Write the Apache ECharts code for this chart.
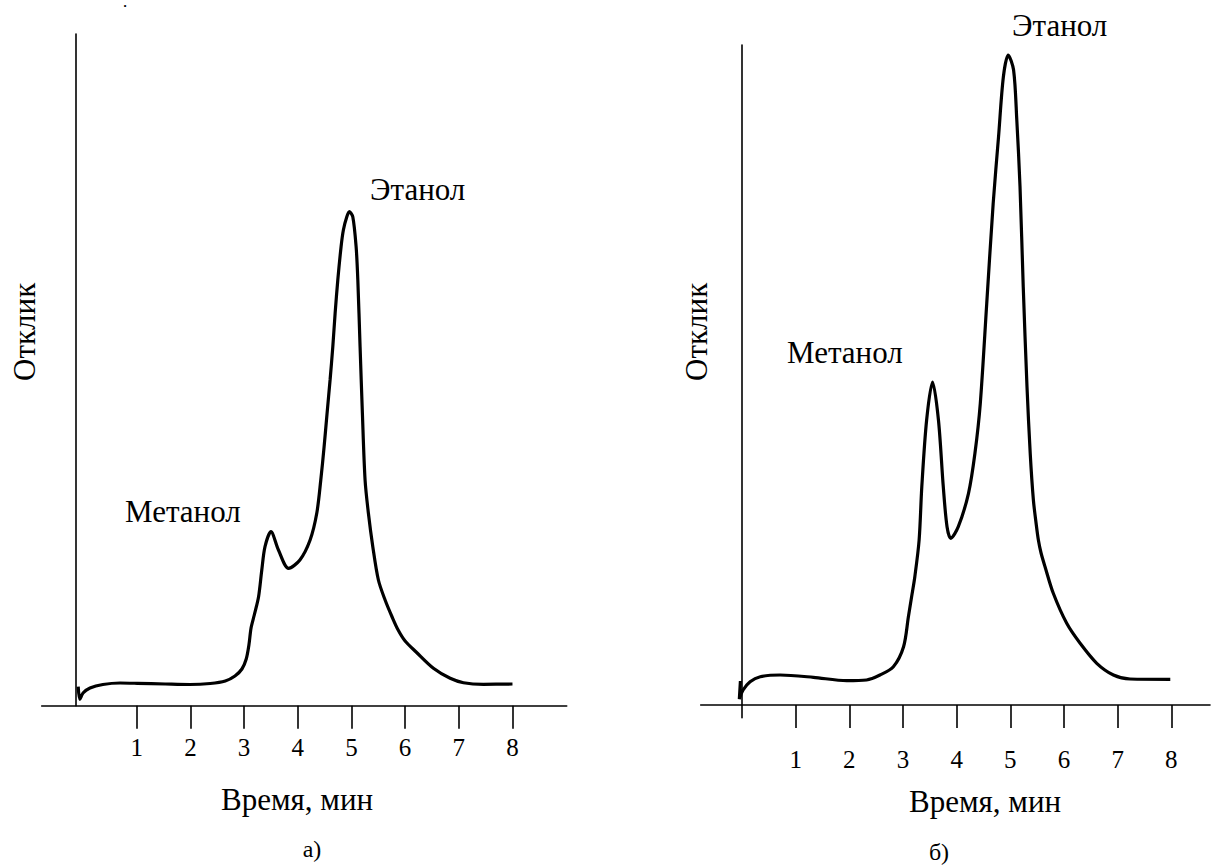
<!DOCTYPE html>
<html>
<head>
<meta charset="utf-8">
<script src="https://cdn.jsdelivr.net/npm/echarts@6/dist/echarts.min.js"></script>
<style>
html,body{margin:0;padding:0;background:#fff;}
#chart{width:1216px;height:865px;}
</style>
</head>
<body>
<div id="chart"></div>
<script>
// ---- data ----
const tickValues = [1, 2, 3, 4, 5, 6, 7, 8];

// chromatogram a)
const timeA = [-0.09, -0.06, 0.0, 0.13, 0.37, 0.69, 1.01, 1.53, 1.99, 2.37, 2.65, 2.83, 2.96, 3.04, 3.09, 3.13, 3.19, 3.27, 3.33, 3.39, 3.50, 3.64, 3.83, 4.04, 4.23, 4.354, 4.429, 4.491, 4.546, 4.602, 4.653, 4.696, 4.746, 4.807, 4.850, 4.914, 4.962, 5.025, 5.087, 5.119, 5.161, 5.204, 5.254, 5.316, 5.398, 5.502, 5.627, 5.758, 5.870, 6.000, 6.205, 6.527, 6.839, 7.087, 7.459, 8.00];
const respA = [1.9, 0.64, 1.27, 1.77, 2.12, 2.27, 2.24, 2.17, 2.12, 2.22, 2.47, 2.97, 3.67, 4.67, 6.07, 7.77, 9.07, 10.9, 13.57, 15.9, 17.4, 15.57, 13.74, 14.57, 16.57, 19.24, 22.57, 25.9, 29.24, 32.57, 35.9, 39.24, 42.57, 45.9, 47.57, 48.9, 49.4, 48.9, 45.9, 42.57, 35.9, 29.24, 22.57, 19.24, 15.9, 12.57, 10.57, 8.87, 7.57, 6.47, 5.37, 3.74, 2.74, 2.3, 2.14, 2.17];

// chromatogram б)
const timeB = [-0.03, -0.05, 0.02, 0.15, 0.34, 0.71, 1.33, 1.95, 2.32, 2.57, 2.82, 3.01, 3.10, 3.16, 3.22, 3.30, 3.35, 3.44, 3.55, 3.66, 3.75, 3.82, 3.89, 4.03, 4.22, 4.34, 4.44, 4.56, 4.68, 4.78, 4.87, 4.96, 5.06, 5.12, 5.18, 5.24, 5.31, 5.37, 5.429, 5.479, 5.522, 5.572, 5.646, 5.80, 6.05, 6.30, 6.61, 6.92, 7.23, 7.98];
const respB = [2.4, 0.6, 1.5, 2.33, 2.83, 3.0, 2.77, 2.43, 2.5, 3.0, 3.83, 5.83, 8.83, 10.83, 12.83, 16.5, 21.83, 28.5, 32.3, 28.5, 21.83, 17.83, 16.67, 17.83, 21.17, 25.17, 30.17, 40.17, 50.17, 56.83, 62.83, 65.0, 63.5, 58.5, 51.83, 41.83, 31.83, 25.17, 20.5, 18.2, 16.5, 15.2, 13.83, 11.17, 8.17, 6.17, 4.17, 3.0, 2.6, 2.57];

const xName = 'Время, мин';
const yName = 'Отклик';
const peakNames = ['Метанол', 'Этанол'];
const panelNames = ['а)', 'б)'];

// ---- chart ----
const FAMILY = 'Liberation Serif';
const zip = (xs, ys) => xs.map((x, i) => [x, ys[i]]);

function xAxisCfg(gridIndex, min, max) {
  return {
    type: 'value', gridIndex, min, max,
    axisLine: { onZero: true, lineStyle: { color: '#000', width: 1.6 } },
    axisTick: { show: true, inside: false, length: 23, customValues: tickValues, lineStyle: { color: '#000', width: 1.6 } },
    axisLabel: { show: true, customValues: tickValues, margin: 29, color: '#000', fontFamily: FAMILY, fontSize: 25 },
    splitLine: { show: false }
  };
}
function yAxisCfg(gridIndex, min, max, offset, gap, shift) {
  return {
    type: 'value', gridIndex, min, max, offset,
    name: yName, nameLocation: 'middle', nameRotate: 90, nameGap: gap,
    nameTextStyle: { color: '#000', fontFamily: FAMILY, fontSize: 31, padding: [0, 0, 0, shift] },
    axisLine: { show: true, onZero: false, lineStyle: { color: '#000', width: 1.6 } },
    axisTick: { show: false }, axisLabel: { show: false }, splitLine: { show: false }
  };
}
function txt(text, x, y, size, align) {
  return {
    text, left: x, top: y, padding: 0, itemGap: 0,
    textAlign: align || 'center', textVerticalAlign: 'middle',
    textStyle: { color: '#000', fontFamily: FAMILY, fontSize: size, fontWeight: 'normal' }
  };
}

const chart = echarts.init(document.getElementById('chart'), null, { renderer: 'svg' });
chart.setOption({
  backgroundColor: '#fff',
  animation: false,
  grid: [
    { left: 41.7, top: 34, width: 525, height: 671.7 },
    { left: 700.7, top: 45, width: 509.3, height: 672.7 }
  ],
  xAxis: [xAxisCfg(0, -0.77, 9.01), xAxisCfg(1, -0.77, 8.72)],
  yAxis: [yAxisCfg(0, 0, 67.17, -34.3, 36, 76), yAxisCfg(1, -1.27, 66.0, -41, 29.7, 99)],
  series: [
    { type: 'line', xAxisIndex: 0, yAxisIndex: 0, data: zip(timeA, respA), smooth: 0.3, symbol: 'none',
      lineStyle: { color: '#000', width: 3.2 } },
    { type: 'line', xAxisIndex: 1, yAxisIndex: 1, data: zip(timeB, respB), smooth: 0.3, symbol: 'none',
      lineStyle: { color: '#000', width: 3.2 } }
  ],
  title: [
    txt('•', 125, 6, 9, 'center'),
    txt(xName, 297, 799.5, 31, 'center'),
    txt(xName, 985, 801.5, 31, 'center'),
    txt(panelNames[0], 312, 849, 24, 'center'),
    txt(panelNames[1], 939, 852, 24, 'center'),
    txt(peakNames[0], 125, 511.5, 31, 'left'),
    txt(peakNames[1], 370, 189.5, 31, 'left'),
    txt(peakNames[0], 787, 352.5, 31, 'left'),
    txt(peakNames[1], 1012, 25.5, 31, 'left')
  ]
});
</script>
</body>
</html>
